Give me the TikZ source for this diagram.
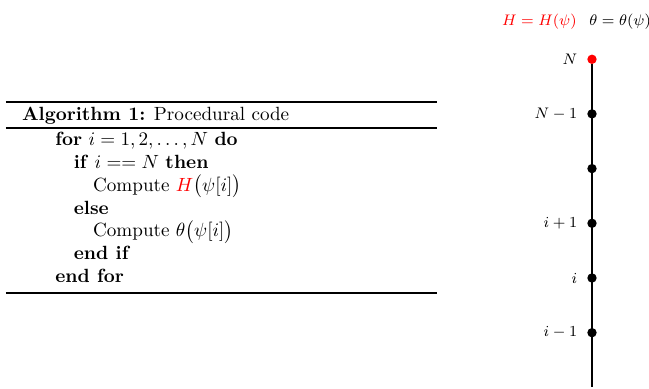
\documentclass[tikz,border=0pt]{standalone}
\usepackage{amsmath}
\usepackage{xcolor}
\usetikzlibrary{positioning}

\begin{document}
\begin{tikzpicture}[
  x=0.523pt, y=-0.523pt,
  algline/.style={anchor=base west, inner sep=0pt},
  algrule/.style={line width=0.9pt},
  dot/.style={circle, fill=black, inner sep=0pt, minimum size=4.9pt},
  tick/.style={font=\fontsize{8.5}{10}\selectfont, inner sep=0pt},
  axis/.style={line width=0.7pt}
]
\useasboundingbox (0,0) rectangle (649,389);

% algorithm box
\draw[algrule] (6,101.7) -- (437,101.7);
\draw[algrule] (6,128.3) -- (437,128.3);
\draw[algrule] (6,293.3) -- (437,293.3);
\node[algline] (title) at (21.7,121) {\textbf{Algorithm 1:} Procedural code};
\node[algline] (for)   at (55,145.7)  {\textbf{for} $i=1,2,\ldots,N$ \textbf{do}};
\node[algline] (if)    at (73.5,168.5)  {\textbf{if} $i == N$ \textbf{then}};
\node[algline] (compH) at (92.7,191.3) {Compute $\textcolor{red}{H}\big(\psi[i]\big)$};
\node[algline] (else)  at (73.5,214.1)  {\textbf{else}};
\node[algline] (compT) at (92.7,236.9) {Compute $\theta\big(\psi[i]\big)$};
\node[algline] (endif) at (73.5,259.7)  {\textbf{end if}};
\node[algline] (endfor) at (55,282.5)  {\textbf{end for}};

% levels
\node[tick, anchor=base west, text=red] (Hlab) at (501.7,25.7) {$H=H(\psi)$};
\node[tick, anchor=base west] (Tlab) at (589,25.7) {$\theta=\theta(\psi)$};

\node[dot, fill=red, label={[tick,label distance=4.9pt]left:$N$}] (dN) at (592,59.3) {};
\node[dot, label={[tick,label distance=4.9pt]left:$N-1$}] (dN1) at (592,113.9) {};
\node[dot] (dmid) at (592,168.6) {};
\node[dot, label={[tick,label distance=4.9pt]left:$i+1$}] (di1) at (592,223.3) {};
\node[dot, label={[tick,label distance=4.9pt]left:$i$}] (di) at (592,278) {};
\node[dot, label={[tick,label distance=4.9pt]left:$i-1$}] (dim1) at (592,332.7) {};
\coordinate (bot) at (592,387);

\draw[axis] (dN) -- (bot);
\end{tikzpicture}
\end{document}
